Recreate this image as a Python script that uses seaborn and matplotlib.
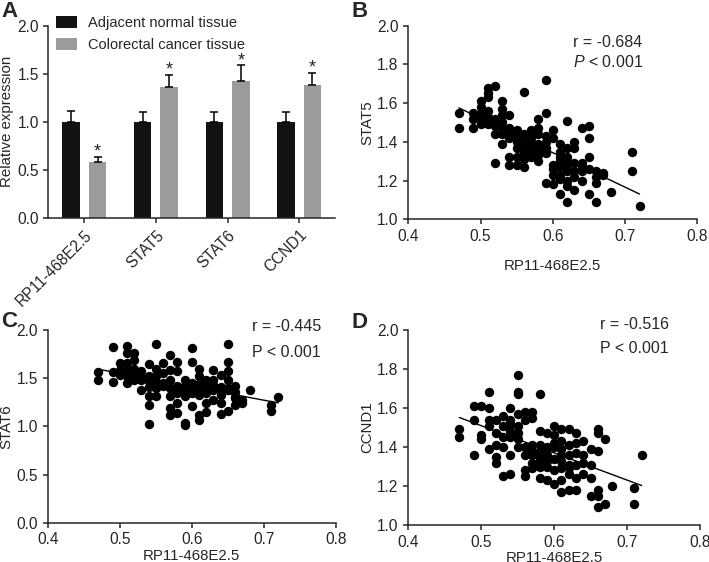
import numpy as np
import pandas as pd
import seaborn as sns
import matplotlib.pyplot as plt

# Panel A: relative expression (mean, upper SD)
genes = ['RP11-468E2.5', 'STAT5', 'STAT6', 'CCND1']
groups = ['Adjacent normal tissue', 'Colorectal cancer tissue']
normal_mean = [1.0, 1.0, 1.0, 1.0]
normal_err = [0.11, 0.10, 0.10, 0.10]
cancer_mean = [0.58, 1.36, 1.42, 1.38]
cancer_err = [0.055, 0.13, 0.17, 0.13]

# Panel B: RP11-468E2.5 vs STAT5
b_x = [0.47, 0.47, 0.49, 0.49, 0.49, 0.50, 0.50, 0.50, 0.50, 0.51, 0.51, 0.51, 0.51, 0.51,
       0.52, 0.52, 0.52, 0.52, 0.52, 0.53, 0.53, 0.53, 0.53, 0.53, 0.53, 0.54, 0.54, 0.54,
       0.54, 0.54, 0.55, 0.55, 0.55, 0.55, 0.55, 0.56, 0.56, 0.56, 0.56, 0.56, 0.56, 0.57,
       0.57, 0.57, 0.57, 0.57, 0.58, 0.58, 0.58, 0.58, 0.58, 0.58, 0.59, 0.59, 0.59, 0.59,
       0.59, 0.59, 0.60, 0.60, 0.60, 0.60, 0.60, 0.61, 0.61, 0.61, 0.61, 0.61, 0.61, 0.62,
       0.62, 0.62, 0.62, 0.62, 0.62, 0.62, 0.63, 0.63, 0.63, 0.63, 0.63, 0.64, 0.64, 0.64,
       0.64, 0.65, 0.65, 0.65, 0.65, 0.65, 0.66, 0.66, 0.66, 0.67, 0.67, 0.68, 0.71, 0.71,
       0.72, 0.55, 0.56, 0.57, 0.58, 0.59, 0.61, 0.62, 0.63, 0.61, 0.64, 0.66, 0.52, 0.53,
       0.51, 0.50, 0.54, 0.58, 0.60]
b_y = [1.55, 1.47, 1.55, 1.52, 1.47, 1.61, 1.58, 1.55, 1.49, 1.68, 1.65, 1.63, 1.56, 1.49,
       1.69, 1.52, 1.48, 1.44, 1.29, 1.61, 1.57, 1.54, 1.50, 1.44, 1.39, 1.54, 1.47, 1.42,
       1.32, 1.28, 1.46, 1.43, 1.40, 1.32, 1.28, 1.66, 1.44, 1.40, 1.35, 1.31, 1.27, 1.46,
       1.42, 1.39, 1.35, 1.32, 1.52, 1.47, 1.44, 1.39, 1.34, 1.30, 1.72, 1.55, 1.43, 1.37,
       1.34, 1.19, 1.46, 1.42, 1.26, 1.23, 1.18, 1.39, 1.35, 1.32, 1.27, 1.23, 1.13, 1.51,
       1.37, 1.32, 1.25, 1.20, 1.17, 1.09, 1.40, 1.37, 1.29, 1.22, 1.15, 1.47, 1.29, 1.25,
       1.20, 1.48, 1.42, 1.32, 1.26, 1.13, 1.25, 1.19, 1.09, 1.24, 1.23, 1.14, 1.35, 1.25,
       1.07, 1.37, 1.38, 1.37, 1.36, 1.40, 1.30, 1.28, 1.25, 1.21, 1.27, 1.22, 1.50, 1.47,
       1.53, 1.52, 1.44, 1.33, 1.28]

# Panel C: RP11-468E2.5 vs STAT6
c_x = [0.47, 0.47, 0.49, 0.49, 0.49, 0.50, 0.50, 0.50, 0.51, 0.51, 0.51, 0.51, 0.51, 0.51,
       0.52, 0.52, 0.52, 0.52, 0.52, 0.53, 0.53, 0.53, 0.54, 0.54, 0.54, 0.54, 0.54, 0.54,
       0.55, 0.55, 0.55, 0.55, 0.55, 0.56, 0.56, 0.56, 0.57, 0.57, 0.57, 0.57, 0.57, 0.57,
       0.58, 0.58, 0.58, 0.58, 0.58, 0.58, 0.59, 0.59, 0.59, 0.59, 0.59, 0.60, 0.60, 0.60,
       0.60, 0.60, 0.61, 0.61, 0.61, 0.61, 0.61, 0.61, 0.62, 0.62, 0.62, 0.62, 0.63, 0.63,
       0.63, 0.63, 0.64, 0.64, 0.64, 0.64, 0.64, 0.65, 0.65, 0.65, 0.65, 0.65, 0.65, 0.66,
       0.66, 0.66, 0.66, 0.67, 0.67, 0.68, 0.71, 0.71, 0.72, 0.58, 0.59, 0.59, 0.60, 0.60,
       0.61, 0.61, 0.62, 0.62, 0.63, 0.57, 0.56, 0.55, 0.53, 0.52, 0.51, 0.54, 0.64, 0.65,
       0.66]
c_y = [1.56, 1.48, 1.82, 1.56, 1.46, 1.66, 1.59, 1.53, 1.83, 1.76, 1.66, 1.59, 1.52, 1.45,
       1.76, 1.69, 1.60, 1.53, 1.48, 1.57, 1.48, 1.38, 1.65, 1.52, 1.41, 1.31, 1.22, 1.02,
       1.85, 1.60, 1.52, 1.45, 1.31, 1.66, 1.55, 1.45, 1.74, 1.59, 1.48, 1.31, 1.19, 1.12,
       1.67, 1.57, 1.42, 1.35, 1.24, 1.14, 1.48, 1.38, 1.31, 1.03, 1.01, 1.81, 1.67, 1.45,
       1.35, 1.21, 1.60, 1.52, 1.41, 1.33, 1.12, 1.07, 1.48, 1.38, 1.24, 1.15, 1.58, 1.48,
       1.38, 1.27, 1.53, 1.41, 1.33, 1.24, 1.13, 1.85, 1.67, 1.57, 1.48, 1.38, 1.16, 1.42,
       1.36, 1.29, 1.22, 1.27, 1.24, 1.38, 1.22, 1.16, 1.30, 1.38, 1.42, 1.35, 1.40, 1.37,
       1.44, 1.38, 1.42, 1.35, 1.43, 1.40, 1.42, 1.40, 1.52, 1.55, 1.57, 1.47, 1.38, 1.40,
       1.30]

# Panel D: RP11-468E2.5 vs CCND1
d_x = [0.47, 0.47, 0.49, 0.49, 0.49, 0.50, 0.50, 0.50, 0.51, 0.51, 0.51, 0.51, 0.51, 0.52,
       0.52, 0.52, 0.52, 0.52, 0.53, 0.53, 0.53, 0.53, 0.54, 0.54, 0.54, 0.54, 0.54, 0.54,
       0.55, 0.55, 0.55, 0.55, 0.55, 0.55, 0.55, 0.56, 0.56, 0.56, 0.56, 0.56, 0.57, 0.57,
       0.57, 0.57, 0.57, 0.57, 0.58, 0.58, 0.58, 0.58, 0.58, 0.58, 0.59, 0.59, 0.59, 0.59,
       0.60, 0.60, 0.60, 0.60, 0.60, 0.61, 0.61, 0.61, 0.61, 0.61, 0.61, 0.62, 0.62, 0.62,
       0.62, 0.62, 0.63, 0.63, 0.63, 0.63, 0.63, 0.64, 0.64, 0.64, 0.65, 0.65, 0.65, 0.65,
       0.66, 0.66, 0.66, 0.66, 0.66, 0.66, 0.67, 0.67, 0.68, 0.71, 0.71, 0.72, 0.57, 0.58,
       0.58, 0.59, 0.59, 0.60, 0.60, 0.61, 0.61, 0.62, 0.62, 0.56, 0.55, 0.54, 0.53, 0.63,
       0.64]
d_y = [1.49, 1.45, 1.61, 1.54, 1.36, 1.61, 1.46, 1.44, 1.68, 1.60, 1.54, 1.51, 1.39, 1.54,
       1.47, 1.41, 1.35, 1.32, 1.56, 1.51, 1.40, 1.25, 1.60, 1.52, 1.48, 1.45, 1.36, 1.26,
       1.77, 1.68, 1.67, 1.57, 1.51, 1.44, 1.40, 1.58, 1.54, 1.36, 1.28, 1.25, 1.58, 1.55,
       1.41, 1.36, 1.32, 1.29, 1.67, 1.48, 1.41, 1.35, 1.30, 1.24, 1.47, 1.40, 1.33, 1.23,
       1.51, 1.46, 1.40, 1.28, 1.21, 1.49, 1.43, 1.36, 1.29, 1.23, 1.17, 1.49, 1.41, 1.31,
       1.26, 1.18, 1.47, 1.37, 1.31, 1.24, 1.18, 1.43, 1.32, 1.26, 1.39, 1.31, 1.24, 1.15,
       1.49, 1.47, 1.38, 1.18, 1.15, 1.09, 1.44, 1.11, 1.20, 1.19, 1.11, 1.36, 1.38, 1.33,
       1.38, 1.36, 1.30, 1.34, 1.42, 1.39, 1.33, 1.36, 1.29, 1.40, 1.47, 1.54, 1.45, 1.42,
       1.36]

sns.set_style('ticks')
plt.rcParams['font.family'] = ['Liberation Sans', 'DejaVu Sans']
plt.rcParams['mathtext.fontset'] = 'custom'
plt.rcParams['mathtext.rm'] = 'Liberation Sans'
plt.rcParams['mathtext.it'] = 'Liberation Sans:italic'
plt.rcParams['font.size'] = 10.8
plt.rcParams['axes.linewidth'] = 1.1
plt.rcParams['xtick.major.width'] = 1.1
plt.rcParams['ytick.major.width'] = 1.1
plt.rcParams['xtick.major.size'] = 3.5
plt.rcParams['ytick.major.size'] = 3.5
plt.rcParams['xtick.labelsize'] = 11.2
plt.rcParams['ytick.labelsize'] = 11.2
plt.rcParams['axes.labelsize'] = 10.8

fig = plt.figure(figsize=(7.09, 5.62), dpi=100)
ax_a = fig.add_axes([0.0684, 0.6126, 0.404, 0.3416])
ax_b = fig.add_axes([0.5759, 0.6098, 0.4076, 0.3445])
ax_c = fig.add_axes([0.0673, 0.0699, 0.4066, 0.3429])
ax_d = fig.add_axes([0.5759, 0.0658, 0.4114, 0.3470])

# --- A: grouped bars
bars = pd.DataFrame({
    'gene': genes * 2,
    'group': [groups[0]] * 4 + [groups[1]] * 4,
    'value': normal_mean + cancer_mean,
    'err': normal_err + cancer_err,
})
sns.barplot(data=bars, x='gene', y='value', hue='group', errorbar=None,
            palette=['#121212', '#9b9b9b'], width=0.74, gap=0.34,
            linewidth=0, ax=ax_a)
for cont, grp in zip(ax_a.containers, groups):
    sub = bars[bars['group'] == grp]
    xs = [p.get_x() + p.get_width() / 2 for p in cont.patches]
    ys = sub['value'].values
    es = sub['err'].values
    ax_a.errorbar(xs, ys, yerr=[np.zeros_like(es), es], fmt='none',
                  ecolor='black', elinewidth=1.1, capsize=3.2, capthick=1.1)
    if grp == groups[1]:
        for x, y, e in zip(xs, ys, es):
            ax_a.annotate('*', xy=(x, y + e), xytext=(0, -3), textcoords='offset points',
                          ha='center', va='bottom', fontsize=13)
ax_a.set_xlim(-0.5, 3.5)
ax_a.set_ylim(0, 2.0)
ax_a.set_yticks(np.arange(0, 2.01, 0.5))
ax_a.yaxis.set_major_formatter(plt.FormatStrFormatter('%.1f'))
ax_a.set_xlabel('')
ax_a.set_ylabel('Relative expression', labelpad=2)
plt.setp(ax_a.get_xticklabels(), rotation=45, ha='right', rotation_mode='anchor')
ax_a.legend(loc='upper left', bbox_to_anchor=(0.025, 1.05), frameon=False,
            handlelength=1.45, handleheight=0.85, handletextpad=0.75,
            labelspacing=0.55, borderaxespad=0, borderpad=0, fontsize=10.5)


def scatter_panel(ax, xs, ys, ylabel, ymin, ystep):
    sns.scatterplot(x=xs, y=ys, s=46, color='black', linewidth=0, ax=ax, zorder=3)
    sns.regplot(x=np.array(xs), y=np.array(ys), scatter=False, ci=None, ax=ax,
                color='black', line_kws={'linewidth': 1.0, 'zorder': 2})
    ax.set_xlim(0.4, 0.8)
    ax.set_ylim(ymin, 2.0)
    ax.set_xticks(np.arange(0.4, 0.81, 0.1))
    ax.set_yticks(np.arange(ymin, 2.001, ystep))
    ax.xaxis.set_major_formatter(plt.FormatStrFormatter('%.1f'))
    ax.yaxis.set_major_formatter(plt.FormatStrFormatter('%.1f'))
    ax.set_ylabel(ylabel, labelpad=2)
    sns.despine(ax=ax)


scatter_panel(ax_b, b_x, b_y, 'STAT5', 1.0, 0.2)
ax_b.set_xlabel('RP11-468E2.5', labelpad=11)
ax_b.text(0.57, 0.911, 'r = -0.684', transform=ax_b.transAxes, va='center', ha='left', fontsize=11.5)
ax_b.text(0.57, 0.812, '$P$ < 0.001', transform=ax_b.transAxes, va='center', ha='left', fontsize=11.5)

scatter_panel(ax_c, c_x, c_y, 'STAT6', 0.0, 0.5)
ax_c.set_xlabel('RP11-468E2.5', labelpad=1)
ax_c.text(0.709, 1.02, 'r = -0.445', transform=ax_c.transAxes, va='center', ha='left', fontsize=11.5)
ax_c.text(0.709, 0.882, 'P < 0.001', transform=ax_c.transAxes, va='center', ha='left', fontsize=11.5)

scatter_panel(ax_d, d_x, d_y, 'CCND1', 1.0, 0.2)
ax_d.set_xlabel('RP11-468E2.5', labelpad=1)
ax_d.text(0.657, 1.026, 'r = -0.516', transform=ax_d.transAxes, va='center', ha='left', fontsize=11.5)
ax_d.text(0.657, 0.903, 'P < 0.001', transform=ax_d.transAxes, va='center', ha='left', fontsize=11.5)

sns.despine(ax=ax_a)

for lbl, x, y in [('A', 0.002, 0.998), ('B', 0.496, 0.998), ('C', 0.002, 0.447), ('D', 0.496, 0.444)]:
    fig.text(x, y, lbl, fontsize=16, fontweight='bold', ha='left', va='top')

fig.savefig('out.png', dpi=100)
